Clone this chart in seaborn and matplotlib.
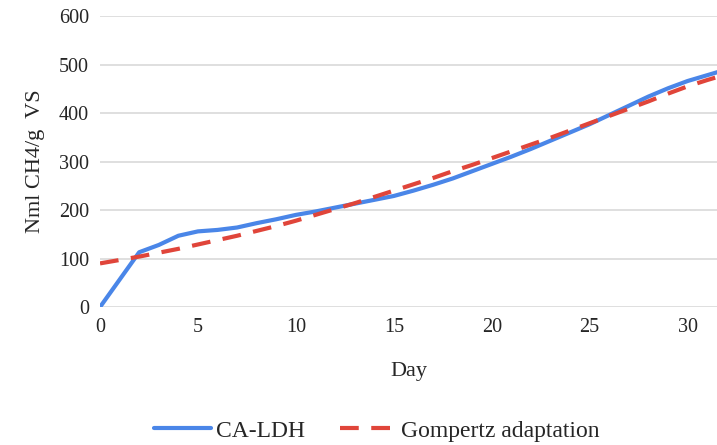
import pandas as pd
import matplotlib
matplotlib.use("Agg")
import matplotlib.pyplot as plt
import seaborn as sns

# Cumulative methane yield
days_measured = [0, 2, 3, 4, 5, 6, 7, 8, 9, 10, 11, 12, 13, 14, 15, 16,
                 17, 18, 19, 20, 21, 22, 23, 24, 25, 26, 27, 28, 29, 30, 31, 32]
ca_ldh = [0, 113, 128, 147, 156, 159, 164, 173, 181, 190, 197, 205, 213, 221, 229, 240,
          252, 265, 280, 295, 310, 326, 343, 360, 377, 396, 415, 434, 451, 466, 478, 490]

days_model = list(range(0, 33))
gompertz = [90, 97, 104, 112, 120, 129, 138, 147, 157, 167, 178, 190, 202, 214, 227, 240,
            253, 266, 280, 293, 307, 321, 335, 349, 364, 379, 394, 409, 424, 440, 455, 468, 480]

df = pd.concat([
    pd.DataFrame({"Day": days_measured, "value": ca_ldh, "series": "CA-LDH"}),
    pd.DataFrame({"Day": days_model, "value": gompertz, "series": "Gompertz adaptation"}),
])

sns.set_style("white")
plt.rcParams["font.family"] = ["Liberation Serif", "DejaVu Serif"]

fig = plt.figure(figsize=(7.17, 4.45), dpi=100)
ax = fig.add_axes([0.1395, 0.31, 0.8605, 0.654])

palette = {"CA-LDH": "#4a86e8", "Gompertz adaptation": "#e0453a"}
sns.lineplot(data=df, x="Day", y="value", hue="series", style="series",
             palette=palette, dashes={"CA-LDH": "", "Gompertz adaptation": (4.5, 3)},
             linewidth=3, ax=ax, legend=True)

ax.set_xlim(0, 31.5)
ax.set_ylim(0, 600)
ax.set_xticks(range(0, 31, 5))
ax.set_yticks(range(0, 601, 100))
ax.yaxis.grid(True, color="#d9d9d9", linewidth=1.2)
ax.set_axisbelow(True)
for s in ax.spines.values():
    s.set_visible(False)
ax.tick_params(axis="both", length=0, labelsize=14.5, pad=8)
ax.set_xlabel("Day", fontsize=16, labelpad=18)
ax.set_ylabel("Nml CH4/g  VS", fontsize=16, labelpad=10)

handles, labels = ax.get_legend_handles_labels()
ax.legend(handles, labels, loc="center", bbox_to_anchor=(0.449, -0.425),
          ncol=2, frameon=False, fontsize=17, handlelength=2.4, handletextpad=0.2,
          columnspacing=1.5)

fig.savefig("out.png", dpi=100)
